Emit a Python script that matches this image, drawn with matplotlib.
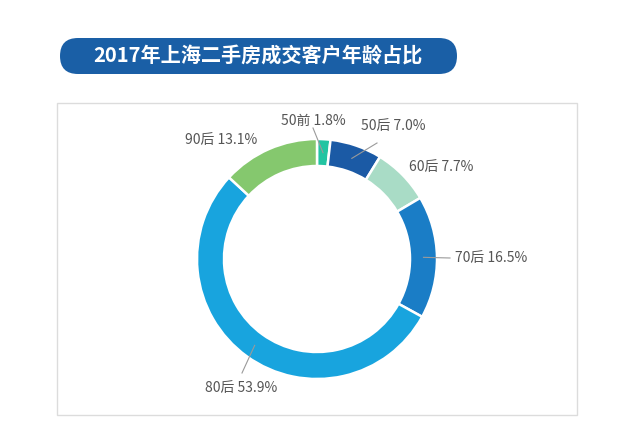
import matplotlib
matplotlib.use('Agg')
import matplotlib.pyplot as plt
from matplotlib.patches import FancyBboxPatch, Rectangle
import numpy as np

plt.rcParams['font.family'] = ['Noto Sans CJK SC', 'DejaVu Sans']

title = '2017年上海二手房成交客户年龄占比'
groups = ['50前', '50后', '60后', '70后', '80后', '90后']
shares = [1.8, 7.0, 7.7, 16.5, 53.9, 13.1]
colors = ['#22c4a2', '#1b5aa5', '#a9dcc6', '#1a7dc6', '#18a4de', '#85c86e']

# label text positions (pixels, y up) and leader line ends
label_xy = [(313, 312), (393, 307), (441, 266), (491, 175), (241, 45), (221, 293)]
leader = [True, True, False, True, True, False]
leader_end = [(313, 305), (377, 290), None, (450, 175), (242, 60), None]

W, H = 640, 433
fig = plt.figure(figsize=(6.4, 4.33), dpi=100)
ax = fig.add_axes([0, 0, 1, 1])

cx, cy, R, w = 317, 174, 120, 27
wedges, _ = ax.pie(shares, colors=colors, startangle=90, counterclock=False,
                   radius=R, center=(cx, cy),
                   wedgeprops=dict(width=w, edgecolor='white', linewidth=1.8))

for i, wd in enumerate(wedges):
    lab = f'{groups[i]} {shares[i]:.1f}%'
    tx, ty = label_xy[i]
    ax.text(tx, ty, lab, ha='center', va='center', fontsize=10, color='#555555')
    if leader[i]:
        ang = np.deg2rad((wd.theta1 + wd.theta2) / 2)
        r0 = R - w / 2
        x0, y0 = cx + r0 * np.cos(ang), cy + r0 * np.sin(ang)
        ex, ey = leader_end[i]
        ax.plot([x0, ex], [y0, ey], color='#9a9a9a', lw=0.8)

# outer frame
ax.add_patch(Rectangle((57, 18), 520, 312, facecolor='none', edgecolor='#dcdcdc', lw=1))

# title banner
ax.add_patch(FancyBboxPatch((60, 359), 397, 36,
                            boxstyle='round,pad=0,rounding_size=18',
                            facecolor='#1a5fa6', edgecolor='none'))
ax.text(258, 377, title, ha='center', va='center', fontsize=14.5, color='white', fontweight='bold')

ax.set_xlim(0, W)
ax.set_ylim(0, H)
ax.set_aspect('equal')
ax.axis('off')

fig.savefig('out.png', dpi=100)
